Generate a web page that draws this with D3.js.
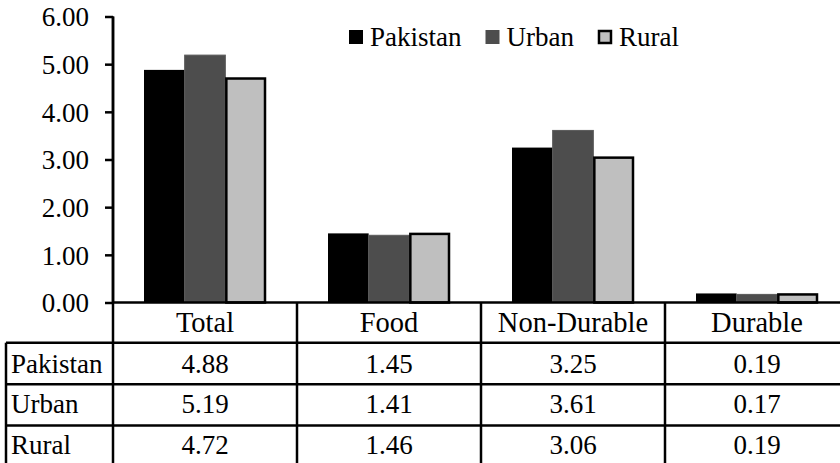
<!DOCTYPE html>
<html><head><meta charset="utf-8">
<script src="https://cdn.jsdelivr.net/npm/d3@7/dist/d3.min.js"></script>
</head><body style="margin:0">
<svg id="c" width="840" height="463" font-family="Liberation Serif"></svg>
<script>
const categories = ["Total", "Food", "Non-Durable", "Durable"];
const seriesNames = ["Pakistan", "Urban", "Rural"];
const pakistan = [4.88, 1.45, 3.25, 0.19];
const urban = [5.19, 1.41, 3.61, 0.17];
const rural = [4.72, 1.46, 3.06, 0.19];
const yTicks = [0, 1, 2, 3, 4, 5, 6];

const seriesValues = [pakistan, urban, rural];
const fills = ["#000000", "#4d4d4d", "#bfbfbf"];
const strokes = ["none", "none", "#000000"];
const FS = 27;

const svg = d3.select("#c");
function styleText(sel, size) {
  return sel.attr("font-family", "Liberation Serif").attr("font-size", size || FS)
    .style("font-family", "'Liberation Serif'").attr("fill", "#000");
}
const axisX = 113, y0 = 302.5, yTop = 16.5, band = 184;
const y = d3.scaleLinear().domain([0, 6]).range([y0, yTop]);
const x = d3.scaleBand().domain(categories).range([axisX, axisX + band * 4]).padding(0);
const xs = d3.scaleBand().domain(seriesNames).range([31, 153]).padding(0);

// bars
categories.forEach((c, i) => {
  seriesNames.forEach((s, j) => {
    const v = seriesValues[j][i];
    const bx = x(c) + xs(s), bw = xs.bandwidth();
    if (strokes[j] !== "none") {
      svg.append("rect").attr("x", bx + 1).attr("y", y(v) + 1)
        .attr("width", bw - 2).attr("height", y0 - y(v) - 1)
        .attr("fill", fills[j]).attr("stroke", strokes[j]).attr("stroke-width", 2.5);
    } else {
      svg.append("rect").attr("x", bx).attr("y", y(v))
        .attr("width", bw).attr("height", y0 - y(v))
        .attr("fill", fills[j]).attr("stroke", j === 1 ? "#5a5a5a" : "none").attr("stroke-width", 1);
    }
  });
});

// y axis
const yAxis = d3.axisLeft(y).tickValues(yTicks).tickFormat(d3.format(".2f")).tickSize(8).tickPadding(16);
const ga = svg.append("g").attr("transform", `translate(${axisX},0)`).call(yAxis);
ga.attr("font-family", "Liberation Serif").attr("font-size", FS);
ga.select(".domain").attr("stroke", "#000").attr("stroke-width", 2.5).attr("d", `M0,${yTop}V${y0}`);
ga.selectAll(".tick line").attr("stroke", "#000").attr("stroke-width", 2.5);
styleText(ga.selectAll(".tick text")).attr("dy", "0.34em");

// table
const rowTops = [y0, 342.7, 384.3, 425.5, 467];
const leftX = 6, rightX = 850;
const lines = svg.append("g").attr("stroke", "#000").attr("stroke-width", 2.5);
lines.append("line").attr("x1", axisX).attr("x2", rightX).attr("y1", y0).attr("y2", y0);
for (let r = 1; r < rowTops.length; r++) {
  lines.append("line").attr("x1", leftX).attr("x2", rightX).attr("y1", rowTops[r]).attr("y2", rowTops[r]);
}
lines.append("line").attr("x1", leftX).attr("x2", leftX).attr("y1", rowTops[1]).attr("y2", 470);
categories.forEach((c, i) => {
  lines.append("line").attr("x1", x(c)).attr("x2", x(c)).attr("y1", i === 0 ? yTop : y0).attr("y2", 470);
});
lines.append("line").attr("x1", x(categories[3]) + band).attr("x2", x(categories[3]) + band).attr("y1", y0).attr("y2", 470);

const tt = svg.append("g");
const rowBase = [373, 413, 454];
categories.forEach((c, i) => {
  styleText(tt.append("text"), 28.5).attr("x", x(c) + band / 2).attr("y", 332).attr("text-anchor", "middle").text(c);
  seriesNames.forEach((s, j) => {
    styleText(tt.append("text")).attr("x", x(c) + band / 2).attr("y", rowBase[j])
      .attr("text-anchor", "middle").text(seriesValues[j][i].toFixed(2));
  });
});
seriesNames.forEach((s, j) => {
  styleText(tt.append("text")).attr("x", 11).attr("y", rowBase[j]).text(s);
});

// legend
const lg = svg.append("g");
let lx = 349;
seriesNames.forEach((s, j) => {
  if (strokes[j] !== "none") {
    lg.append("rect").attr("x", lx + 1).attr("y", 31).attr("width", 12).attr("height", 12)
      .attr("fill", fills[j]).attr("stroke", "#000").attr("stroke-width", 2.5);
  } else {
    lg.append("rect").attr("x", lx).attr("y", 30).attr("width", 14).attr("height", 14).attr("fill", fills[j]);
  }
  const t = styleText(lg.append("text")).attr("x", lx + 21).attr("y", 46).text(s);
  lx += 21 + t.node().getComputedTextLength() + 24;
});
</script>
</body></html>
